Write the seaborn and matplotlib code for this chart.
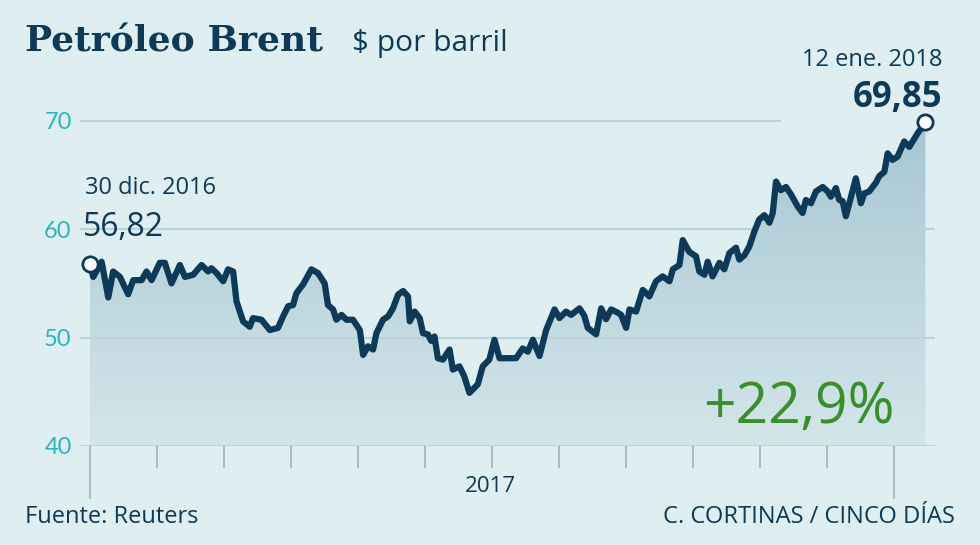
import numpy as np
import pandas as pd
import matplotlib
matplotlib.use("Agg")
import matplotlib.pyplot as plt
import seaborn as sns

# days since 30 Dec 2016
days = [0,1.5,5.3,8.3,10.5,13.6,17.3,19.6,23.4,25.6,27.9,31.6,33.9,36.9,40.7,43.0,46.7,50.5,53.5,55.0,
        57.3,60.3,62.5,64.8,66.3,69.3,72.3,73.8,77.6,81.4,85.1,87.4,89.7,91.9,93.4,96.4,100.2,103.2,106.2,107.7,
        110.0,111.5,113.8,116.0,119.0,122.1,123.6,125.8,128.1,129.6,132.6,134.9,137.1,139.4,141.7,143.9,144.7,146.9,149.2,150.7,
        152.9,154.4,155.9,157.4,159.7,162.7,164.2,167.2,169.4,171.7,175.5,177.7,180.7,183.0,185.3,
        188.9,192.8,195.8,198.1,200.4,203.4,206.4,210.2,212.4,215.4,217.7,221.5,223.7,225.2,229.0,231.3,233.5,235.8,238.8,240.3,
        242.6,244.1,247.1,250.1,253.1,256.1,259.1,262.2,263.7,266.7,268.2,271.2,274.2,275.7,278.0,279.5,281.7,284.8,287.0,289.3,
        292.3,293.8,296.1,298.3,300.6,302.8,305.1,307.4,308.9,310.4,312.6,314.9,317.2,320.2,322.4,323.9,326.2,328.5,331.5,333.7,
        335.2,337.5,339.0,340.5,342.0,344.3,346.5,348.8,350.3,352.6,355.6,357.1,359.4,360.9,363.1,365.4,368.4,370.7,372.2,374.6,378]
prices = [56.82,55.6,57.0,53.7,56.1,55.6,54.0,55.3,55.3,56.1,55.3,56.9,56.9,55.0,56.7,55.6,55.8,56.7,56.1,56.4,
          55.95,55.2,56.3,56.1,53.35,51.5,51.0,51.8,51.65,50.7,50.9,51.96,52.9,53.0,54.1,54.9,56.3,55.95,55.0,53.0,
          52.6,51.65,52.1,51.65,51.65,50.7,48.4,49.2,48.9,50.4,51.65,51.96,52.7,53.96,54.3,53.8,51.5,52.4,51.8,50.4,
          50.3,49.7,50.1,48.1,47.97,48.9,47.05,47.35,46.4,44.9,45.7,47.35,47.97,49.8,48.1,
          48.1,48.1,49.0,48.7,49.8,48.3,50.7,52.6,51.8,52.4,52.1,52.7,52.0,50.9,50.3,52.7,51.7,52.6,52.3,52.1,
          50.9,52.6,52.4,54.4,53.8,55.2,55.65,55.2,56.3,56.7,59.0,57.9,57.5,56.1,55.8,57.0,55.65,56.9,56.3,57.8,
          58.3,57.2,57.6,58.4,59.8,60.9,61.3,60.6,61.5,64.4,63.6,63.9,63.2,62.1,61.5,62.7,62.4,63.5,63.9,63.5,
          63.0,63.8,62.7,62.6,61.2,63.0,64.7,62.4,63.3,63.5,64.3,64.9,65.3,67.0,66.4,66.7,68.1,67.6,68.1,68.9,69.85]
y_ticks = [40, 50, 60, 70]
month_ticks = [k * 30.3 for k in range(13)]

df = pd.DataFrame({"day": days, "price": prices})

BG = "#dfeff1"
NAVY = "#0c3a58"
TEAL = "#2bb3c0"
GREEN = "#3a8f2a"
SANS = "Open Sans"

fig = plt.figure(figsize=(9.8, 5.45), dpi=100, facecolor=BG)
ax = fig.add_axes([0.0816, 0.1817, 0.872, 0.6363])
ax.set_facecolor(BG)
ax.set_xlim(-4.5, 382.1)
ax.set_ylim(40, 72)

# vertical gradient fill under the line
poly = ax.fill_between(df["day"], df["price"], 40, color="none", lw=0)
grad = np.linspace(0, 1, 256).reshape(-1, 1)
cmap = matplotlib.colors.LinearSegmentedColormap.from_list("g", ["#d3e6ea", "#a7c6d2"])
img = ax.imshow(grad, extent=[0, 378, 40, 70], origin="lower", aspect="auto", cmap=cmap, zorder=1)
img.set_clip_path(poly.get_paths()[0], transform=ax.transData)

for yv in y_ticks:
    xmax = (780 - 80) / 855 if yv == 70 else 1.0
    ax.axhline(yv, xmin=0, xmax=xmax, color="#b9d3da", lw=1.5, zorder=2)

sns.lineplot(data=df, x="day", y="price", ax=ax, color=NAVY, lw=4.5, zorder=3)
ax.plot([days[0], days[-1]], [prices[0], prices[-1]], "o", ms=11, mfc="white",
        mec=NAVY, mew=2, zorder=4, clip_on=False)

ax.set_xlim(-4.5, 382.1)
ax.set_ylim(40, 72)
for s in ax.spines.values():
    s.set_visible(False)
ax.set_yticks(y_ticks)
ax.set_yticklabels([str(v) for v in y_ticks], color=TEAL, fontsize=17, fontfamily="Lato")
ax.tick_params(axis="y", length=0, pad=6)
ax.set_xticks([month_ticks[0], month_ticks[12]])
ax.set_xticklabels(["", ""])
ax.set_xticks(month_ticks[1:12], minor=True)
ax.tick_params(axis="x", which="major", length=38, width=1.3, color="#9fb8c0")
ax.tick_params(axis="x", which="minor", length=16, width=1.3, color="#9fb8c0")
ax.set_xlabel("")
ax.set_ylabel("")

fig.text(25/980, 1-42/545, "Petróleo Brent", fontsize=26, fontweight="bold",
         fontfamily="DejaVu Serif", color=NAVY, va="center")
fig.text(352/980, 1-44/545, "\\$ por barril", fontsize=21.5, fontfamily=SANS, color=NAVY, va="center")
fig.text(490/980, 1-487/545, "2017", fontsize=16, fontfamily=SANS, color=NAVY, ha="center", va="center")
fig.text(85/980, 1-188/545, "30 dic. 2016", fontsize=17, fontfamily=SANS, color=NAVY, va="center")
fig.text(83/980, 1-228/545, "56,82", fontsize=23, fontfamily=SANS, color=NAVY, va="center")
fig.text(942/980, 1-60/545, "12 ene. 2018", fontsize=17, fontfamily=SANS, color=NAVY, ha="right", va="center")
fig.text(942/980, 1-98/545, "69,85", fontsize=25, fontweight="bold", fontfamily=SANS, color=NAVY,
         ha="right", va="center")
fig.text(895/980, 1-408/545, "+22,9%", fontsize=41, fontfamily=SANS, color=GREEN, ha="right", va="center")
fig.text(25/980, 1-517/545, "Fuente: Reuters", fontsize=17, fontfamily=SANS, color=NAVY, va="center")
fig.text(955/980, 1-517/545, "C. CORTINAS / CINCO DÍAS", fontsize=17, fontfamily=SANS, color=NAVY,
         ha="right", va="center")

fig.savefig("out.png", dpi=100, facecolor=BG)
